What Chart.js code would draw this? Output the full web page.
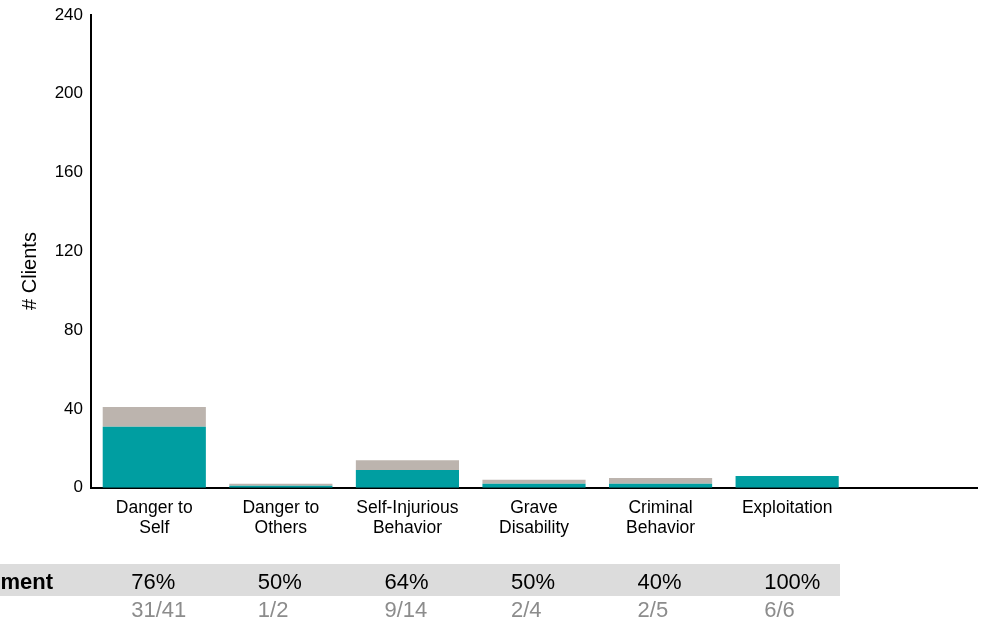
<!DOCTYPE html>
<html>
<head>
<meta charset="utf-8">
<script src="https://cdn.jsdelivr.net/npm/chart.js@4.4.1/dist/chart.umd.min.js"></script>
<style>
  body { margin: 0; background: #fff; }
  #wrap { width: 1002px; height: 621px; position: relative; }
</style>
</head>
<body>
<div id="wrap"><canvas id="clients"></canvas></div>
<script>
"use strict";

// categorias (la ultima columna queda vacia)
const categories = [
    ['Danger to', 'Self'],
    ['Danger to', 'Others'],
    ['Self-Injurious', 'Behavior'],
    ['Grave', 'Disability'],
    ['Criminal', 'Behavior'],
    ['Exploitation']
];
const improved = [31, 1, 9, 2, 2, 6];
const totals = [41, 2, 14, 4, 5, 6];
const yTicks = [0, 40, 80, 120, 160, 200, 240];
const rowTitle = 'Improvement';

const TEAL = 'rgb(0, 158, 161)';
const TAUPE = 'rgb(188, 180, 174)';
const FONT = '"Liberation Sans", Arial, sans-serif';

const remaining = totals.map((t, i) => t - improved[i]);
const labels = categories.concat(['']);

// tabla de porcentajes debajo del grafico
const tablePlugin = {
    id: 'improvementTable',
    afterDraw(chart) {
        const c = chart.ctx;
        const x = chart.scales.x;
        c.save();
        c.fillStyle = '#dcdcdc';
        c.fillRect(0, 564, 840, 32);

        c.font = 'bold 22px ' + FONT;
        c.fillStyle = '#000';
        c.textAlign = 'right';
        c.textBaseline = 'alphabetic';
        c.fillText(rowTitle, 53, 589);

        c.textAlign = 'left';
        c.font = '22px ' + FONT;
        improved.forEach((v, i) => {
            const left = x.getPixelForValue(i) - 23;
            c.fillStyle = '#000';
            c.fillText(Math.round(v / totals[i] * 100) + '%', left, 589);
            c.fillStyle = '#8c8c8c';
            c.fillText(v + '/' + totals[i], left, 617);
        });

        // titulo del eje y
        c.translate(30, 271);
        c.rotate(-Math.PI / 2);
        c.textAlign = 'center';
        c.textBaseline = 'middle';
        c.fillStyle = '#000';
        c.font = '20px ' + FONT;
        c.fillText('# Clients', 0, 0);
        c.restore();
    }
};

const ctx = document.getElementById('clients').getContext('2d');
const chart = new Chart(ctx, {
    type: 'bar',
    data: {
        labels: labels,
        datasets: [{
            label: 'Improved',
            data: improved,
            backgroundColor: TEAL,
            borderWidth: 0
        }, {
            label: 'Not improved',
            data: remaining,
            backgroundColor: TAUPE,
            borderWidth: 0
        }]
    },
    options: {
        responsive: true,
        maintainAspectRatio: false,
        animation: false,
        layout: {
            padding: { top: 15, right: 25, bottom: 73, left: 0 }
        },
        datasets: {
            bar: {
                barPercentage: 1,
                categoryPercentage: 0.815
            }
        },
        scales: {
            x: {
                stacked: true,
                grid: { display: false, drawTicks: false },
                border: { display: true, color: '#000', width: 2 },
                ticks: {
                    color: '#000',
                    padding: 10,
                    maxRotation: 0,
                    autoSkip: false,
                    font: { family: FONT, size: 17.5, lineHeight: 1.15 }
                }
            },
            y: {
                stacked: true,
                min: 0,
                max: 240,
                afterFit(scale) {
                    scale.width = 91;
                    scale.paddingTop = 0;
                    scale.paddingBottom = 0;
                },
                afterBuildTicks(scale) { scale.ticks = yTicks.map(v => ({ value: v })); },
                grid: { display: false, drawTicks: false },
                border: { display: true, color: '#000', width: 2 },
                ticks: {
                    color: '#000',
                    padding: 8,
                    font: { family: FONT, size: 17 }
                }
            }
        },
        plugins: {
            legend: { display: false },
            tooltip: { enabled: false }
        }
    },
    plugins: [tablePlugin]
});
</script>
</body>
</html>
